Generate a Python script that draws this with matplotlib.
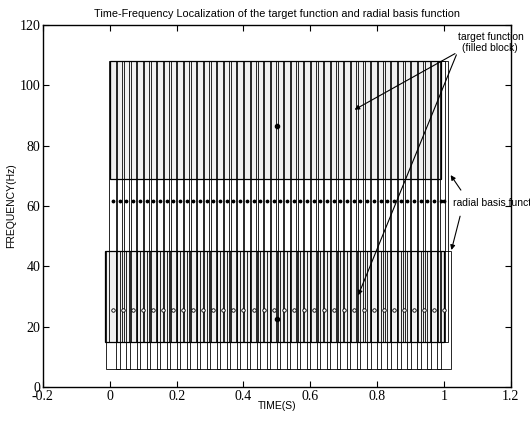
import matplotlib
matplotlib.use('Agg')
import matplotlib.pyplot as plt
from matplotlib.patches import Rectangle

# radial basis functions, high band: time centres, freq centre, widths
hf_times = [0.01, 0.03, 0.05, 0.07, 0.09, 0.11, 0.13, 0.15, 0.17, 0.19,
            0.21, 0.23, 0.25, 0.27, 0.29, 0.31, 0.33, 0.35, 0.37, 0.39,
            0.41, 0.43, 0.45, 0.47, 0.49, 0.51, 0.53, 0.55, 0.57, 0.59,
            0.61, 0.63, 0.65, 0.67, 0.69, 0.71, 0.73, 0.75, 0.77, 0.79,
            0.81, 0.83, 0.85, 0.87, 0.89, 0.91, 0.93, 0.95, 0.97, 0.99, 1.0]
hf_freq = 61.5
hf_dt = 0.024
hf_df = 93.0

# radial basis functions, low band
lf_times = [0.01, 0.04, 0.07, 0.10, 0.13, 0.16, 0.19, 0.22, 0.25, 0.28,
            0.31, 0.34, 0.37, 0.40, 0.43, 0.46, 0.49, 0.52, 0.55, 0.58,
            0.61, 0.64, 0.67, 0.70, 0.73, 0.76, 0.79, 0.82, 0.85, 0.88,
            0.91, 0.94, 0.97, 1.00]
lf_freq = 25.5
lf_dt = 0.04
lf_df = 39.0

# target function blocks: (t0, t1, f0, f1)
target_blocks = [(0.0, 0.99, 69.0, 108.0), (-0.015, 1.0, 15.0, 45.0)]
target_marks_t = [0.5, 0.5]
target_marks_f = [86.5, 22.5]

fig = plt.figure(figsize=(5.3, 4.26), dpi=100)
ax = fig.add_axes([0.081, 0.092, 0.883, 0.849])

for t0, t1, f0, f1 in target_blocks:
    ax.add_patch(Rectangle((t0, f0), t1 - t0, f1 - f0, facecolor='0.94',
                           edgecolor='black', lw=0.9, zorder=1))

for t in hf_times:
    ax.add_patch(Rectangle((t - hf_dt / 2, hf_freq - hf_df / 2), hf_dt, hf_df,
                           fill=False, edgecolor='black', lw=0.7, alpha=0.85, zorder=2))
for t in lf_times:
    ax.add_patch(Rectangle((t - lf_dt / 2, lf_freq - lf_df / 2), lf_dt, lf_df,
                           fill=False, edgecolor='black', lw=0.7, alpha=0.85, zorder=2))

ax.plot(hf_times, [hf_freq] * len(hf_times), 'k.', ms=3.5, zorder=3)
ax.plot(lf_times, [lf_freq] * len(lf_times), 'o', mfc='white', mec='black',
        ms=2.5, mew=0.6, zorder=3)
ax.plot(target_marks_t, target_marks_f, 'ko', ms=3, zorder=3)

ax.set_xlim(-0.2, 1.2)
ax.set_ylim(0, 120)
ax.set_xticks([-0.2, 0, 0.2, 0.4, 0.6, 0.8, 1, 1.2])
ax.set_xticklabels(['-0.2', '0', '0.2', '0.4', '0.6', '0.8', '1', '1.2'])
ax.set_yticks([0, 20, 40, 60, 80, 100, 120])
ax.tick_params(direction='in', top=True, right=True, length=4, width=0.8,
               labelsize=10, pad=2)
for lab in ax.get_xticklabels() + ax.get_yticklabels():
    lab.set_fontfamily('Liberation Serif')
for sp in ax.spines.values():
    sp.set_linewidth(1.0)

ax.set_title('Time-Frequency Localization of the target function and radial basis function',
             fontsize=7.8, family='Liberation Sans', pad=6)
ax.set_xlabel('TIME(S)', fontsize=7.5, family='Liberation Sans', labelpad=-1)
ax.set_ylabel('FREQUENCY(Hz)', fontsize=7.5, family='Liberation Sans', labelpad=2)

# annotations
fig.text(458 / 530, 1 - 37 / 426, 'target function', fontsize=7.5,
         family='Liberation Sans', va='center')
fig.text(462 / 530, 1 - 48 / 426, '(filled block)', fontsize=7.5,
         family='Liberation Sans', va='center')
arrow = dict(arrowstyle='-|>', color='black', lw=0.8, mutation_scale=7)
for tip in [(0.725, 91.5), (0.74, 29.5)]:
    ax.annotate('', xy=tip, xytext=(1.04, 111.0), arrowprops=arrow,
                annotation_clip=False)

fig.text(453 / 530, 1 - 203 / 426, 'radial basis function', fontsize=7.5,
         family='Liberation Sans', va='center')
for tip, tail in [((1.015, 71.0), (1.055, 64.5)), ((1.02, 44.5), (1.05, 57.5))]:
    ax.annotate('', xy=tip, xytext=tail, arrowprops=arrow, annotation_clip=False)

fig.savefig('out.png', dpi=100)
